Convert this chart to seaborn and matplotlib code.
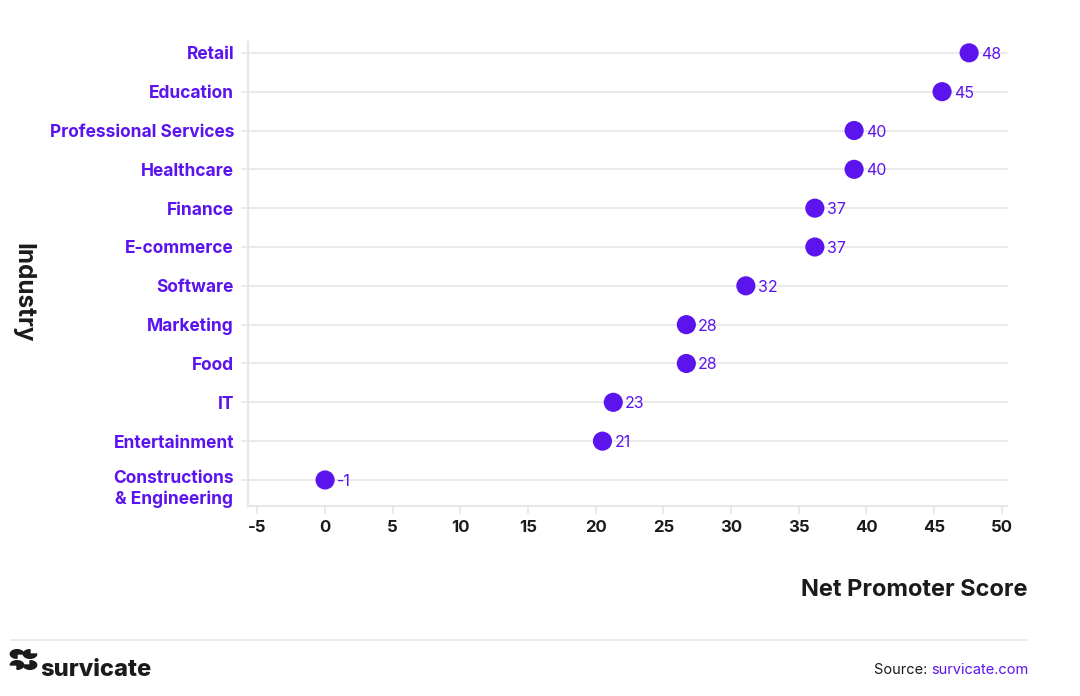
import numpy as np
import pandas as pd
import matplotlib
matplotlib.use("Agg")
import matplotlib.pyplot as plt
from matplotlib.patches import Wedge
import seaborn as sns

industries = ["Retail", "Education", "Professional Services", "Healthcare", "Finance",
              "E-commerce", "Software", "Marketing", "Food", "IT", "Entertainment",
              "Constructions\n& Engineering"]
# where the dots sit on the axis, and the numbers printed next to them
nps_position = [47.6, 45.6, 39.1, 39.1, 36.2, 36.2, 31.1, 26.7, 26.7, 21.3, 20.5, 0.0]
nps_label = [48, 45, 40, 40, 37, 37, 32, 28, 28, 23, 21, -1]
x_ticks = [-5, 0, 5, 10, 15, 20, 25, 30, 35, 40, 45, 50]

purple = "#5B14EE"
dark = "#1b1b1b"
grid_c = "#e6e6e6"

df = pd.DataFrame({"industry": industries, "nps": nps_position, "label": nps_label})

sns.set_theme(style="white")
plt.rcParams["font.family"] = ["Inter", "DejaVu Sans"]

fig = plt.figure(figsize=(10.8, 6.96), dpi=100)
ax = fig.add_axes([0.2296, 0.273, 0.7028, 0.6667])

sns.scatterplot(data=df, x="nps", y="industry", s=190, color=purple,
                edgecolor="none", ax=ax, zorder=3)

for i, row in df.iterrows():
    ax.annotate(str(row["label"]), (row["nps"], i), xytext=(8.5, 0),
                textcoords="offset points", va="center_baseline", ha="left",
                fontsize=11.5, color=purple, zorder=4)

ax.set_xlim(-5.7, 50.4)
ax.set_ylim(len(industries) - 1 + 0.67, -0.28)
ax.set_xticks(x_ticks)
ax.set_xticklabels([str(t) for t in x_ticks], fontsize=12, fontweight="bold", color=dark)
ax.set_yticks(range(len(industries)))
# the two-line label hangs below its tick, so draw it by hand
ax.set_yticklabels(industries[:-1] + [""], fontsize=12.5, fontweight="bold", color=purple)
ax.annotate(industries[-1], xy=(0, len(industries) - 1), xycoords=("axes fraction", "data"),
            xytext=(-10, -6.5), textcoords="offset points", ha="right", va="center",
            multialignment="center", fontsize=12.5, fontweight="bold", color=purple)

for i in range(len(industries)):
    ax.axhline(i, xmin=-0.008, xmax=1, color=grid_c, lw=1.2, zorder=1, clip_on=False)

for s in ["top", "right"]:
    ax.spines[s].set_visible(False)
for s in ["left", "bottom"]:
    ax.spines[s].set_color(grid_c)
    ax.spines[s].set_linewidth(1.5)
ax.tick_params(axis="x", length=6, width=1.2, color=grid_c, bottom=True, pad=4)
ax.tick_params(axis="y", length=0, pad=10)

ax.set_xlabel("")
ax.set_ylabel("")
fig.text(0.021, 0.58, "Industry", rotation=-90, ha="center", va="center",
         fontsize=17.5, fontweight="bold", color=dark)
fig.text(0.951, 0.152, "Net Promoter Score", ha="right", va="center",
         fontsize=17, fontweight="bold", color=dark)

# footer
fig.add_artist(plt.Line2D([0.01, 0.951], [0.081, 0.081], color=grid_c, lw=1.2))
# rough logo mark: four blobs in a 2x2 grid
for cx, cy, a in [(17, 15, 0), (30, 15, 90), (17, 4, 270), (30, 4, 180)]:
    px, py = cx / 1080, (27 + cy) / 696
    fig.add_artist(Wedge((px, py), 0.0062, a, a + 270, color=dark,
                         transform=fig.transFigure))
fig.text(0.037, 0.037, "survicate", ha="left", va="center", fontsize=17,
         fontweight="heavy", color=dark)
fig.text(0.8625, 0.037, "survicate.com", ha="left", va="center", fontsize=10.5, color=purple)
fig.text(0.8625, 0.037, "Source: ", ha="right", va="center", fontsize=10.5, color=dark)

fig.savefig("out.png", dpi=100)
